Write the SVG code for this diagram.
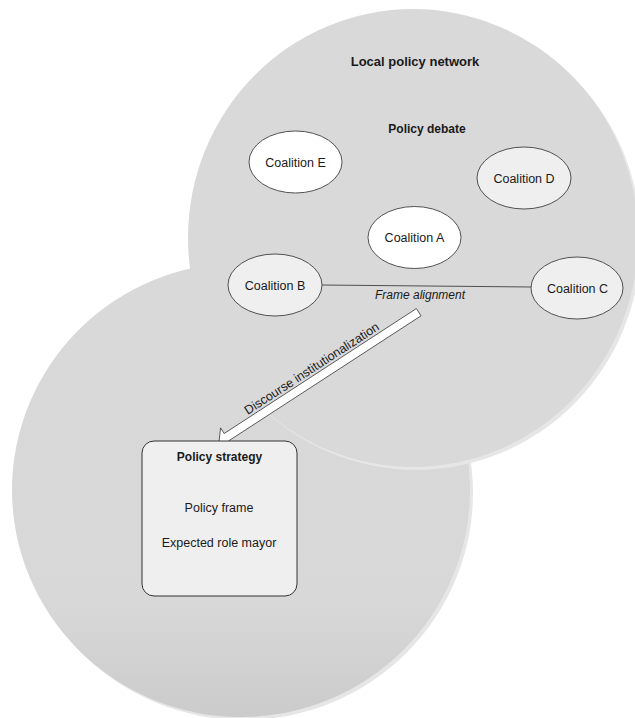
<svg xmlns="http://www.w3.org/2000/svg" width="635" height="718" viewBox="0 0 635 718">
<defs>
<style>
.big{fill:#d9d9d9;stroke:none}
.shadow{fill:#e6e6e6;stroke:none}
.coal{stroke:#404040;stroke-width:0.9}
.white{fill:#ffffff}
.light{fill:#efefef}
.lbl{font-family:"Liberation Sans",Arial,sans-serif;font-size:12.5px;fill:#1a1a1a;text-anchor:middle}
.bold{font-weight:bold}
.conn{stroke:#404040;stroke-width:0.9;fill:none}
</style>
<linearGradient id="lowgrad" x1="0" y1="0" x2="0" y2="1">
<stop offset="0" stop-color="#d9d9d9"/>
<stop offset="0.75" stop-color="#d8d8d8"/>
<stop offset="1" stop-color="#cbcbcb"/>
</linearGradient>
</defs>
<rect width="635" height="718" fill="#ffffff"/>
<g id="strategy-area">
<ellipse class="shadow" cx="244" cy="493" rx="229" ry="227"/>
<ellipse cx="241" cy="490" rx="229" ry="227" fill="url(#lowgrad)"/>
</g>
<g id="policy-network">
<ellipse class="shadow" cx="416" cy="241" rx="225" ry="229"/>
<ellipse class="big" cx="413" cy="238" rx="225" ry="229"/>
<text class="lbl bold" x="415" y="66" style="font-size:13px">Local policy network</text>
<text class="lbl bold" x="427" y="133" style="font-size:12px">Policy debate</text>
</g>
<g id="connectors">
<line class="conn" x1="322" y1="285" x2="531" y2="287"/>
<text class="lbl" x="420" y="299" style="font-size:12px;font-style:italic">Frame alignment</text>
<polygon fill="#ffffff" stroke="#333333" stroke-width="0.8" stroke-linejoin="miter" points="416.36,308.59 224.21,433.49 220.56,427.88 219,442 232.54,446.32 228.89,440.71 421.04,315.81"/>
<text class="lbl" transform="translate(314,372) rotate(-33)">Discourse institutionalization</text>
</g>
<g id="coalition-e">
<ellipse class="coal white" cx="295.5" cy="162" rx="46.5" ry="31"/>
<text class="lbl" x="295.5" y="167">Coalition E</text>
</g>
<g id="coalition-d">
<ellipse class="coal light" cx="524" cy="178" rx="47" ry="31"/>
<text class="lbl" x="524" y="183">Coalition D</text>
</g>
<g id="coalition-a">
<ellipse class="coal white" cx="414.5" cy="237.5" rx="46.5" ry="31"/>
<text class="lbl" x="414.5" y="242">Coalition A</text>
</g>
<g id="coalition-b">
<ellipse class="coal light" cx="275" cy="285" rx="47" ry="31"/>
<text class="lbl" x="275" y="289.5">Coalition B</text>
</g>
<g id="coalition-c">
<ellipse class="coal light" cx="577" cy="288" rx="46" ry="31"/>
<text class="lbl" x="577.5" y="292.5">Coalition C</text>
</g>
<g id="policy-strategy">
<rect x="142" y="441" width="155" height="155" rx="12" ry="12" fill="#efefef" stroke="#333333" stroke-width="1"/>
<text class="lbl bold" x="219.5" y="461" style="font-size:12px">Policy strategy</text>
<text class="lbl" x="219" y="512">Policy frame</text>
<text class="lbl" x="219" y="547">Expected role mayor</text>
</g>
</svg>
